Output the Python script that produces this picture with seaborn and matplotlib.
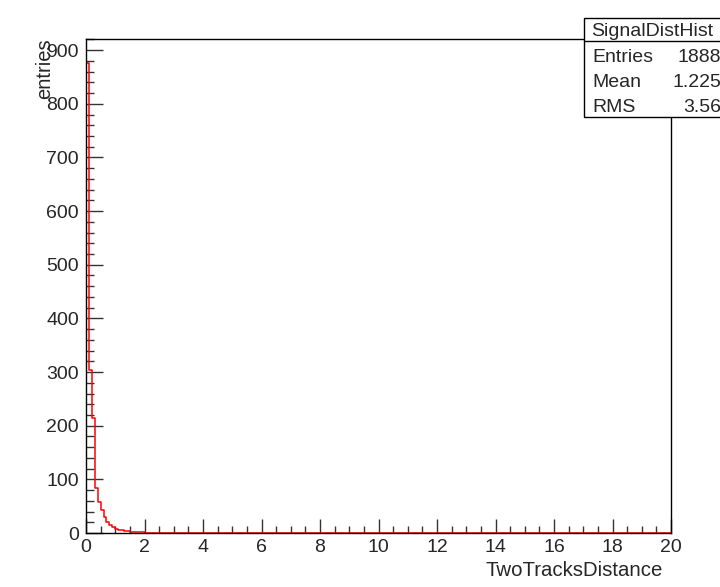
import numpy as np
import pandas as pd
import matplotlib
matplotlib.use("Agg")
import matplotlib.pyplot as plt
from matplotlib.patches import Rectangle
from matplotlib.lines import Line2D
from matplotlib.ticker import MultipleLocator
import seaborn as sns

# ---- data ----
x_min, x_max, n_bins = 0.0, 20.0, 200
counts_head = [877, 303, 214, 84, 58, 42, 30, 21, 15, 11, 8, 6, 5, 4, 3, 2, 2, 1, 1, 1]
counts = counts_head + [0] * (n_bins - len(counts_head))
x_ticks = [0, 2, 4, 6, 8, 10, 12, 14, 16, 18, 20]
y_ticks = [0, 100, 200, 300, 400, 500, 600, 700, 800, 900]
stats_title = "SignalDistHist"
stats_names = ["Entries", "Mean", "RMS"]
stats_values = ["1888", "1.225", "3.56"]
x_label = "TwoTracksDistance"
y_label = "entries"

bin_w = (x_max - x_min) / n_bins
centers = x_min + bin_w * (np.arange(n_bins) + 0.5)
df = pd.DataFrame({"x": centers, "w": counts})

sns.set_theme(style="white")
plt.rcParams["font.family"] = ["Liberation Sans", "DejaVu Sans"]

W, H = 720, 587
fig = plt.figure(figsize=(W / 100, H / 100), dpi=100)
fx = lambda px: px / W
fy = lambda py: 1 - py / H

ax = fig.add_axes([fx(86), fy(533), (671 - 86) / W, (533 - 39) / H])
sns.histplot(data=df, x="x", weights="w", binwidth=bin_w, binrange=(x_min, x_max),
             element="step", fill=False, color="#ff0000", linewidth=1.1, ax=ax)
ax.set_xlim(x_min, x_max)
ax.set_ylim(0, max(counts) * 1.05)
ax.set_xlabel("")
ax.set_ylabel("")
ax.set_xticks(x_ticks)
ax.set_xticklabels([str(t) for t in x_ticks])
ax.set_yticks(y_ticks)
ax.set_yticklabels([str(t) for t in y_ticks])
ax.xaxis.set_minor_locator(MultipleLocator(0.5))
ax.yaxis.set_minor_locator(MultipleLocator(20))
ax.tick_params(axis="x", which="major", direction="in", length=10, width=1.0,
               color="#333333", labelsize=14, pad=4, bottom=True, top=False)
ax.tick_params(axis="x", which="minor", direction="in", length=5, width=1.0,
               color="#333333", bottom=True, top=False)
ax.tick_params(axis="y", which="major", direction="in", length=12, width=1.0,
               color="#333333", labelsize=14, pad=5, left=True, right=False)
ax.tick_params(axis="y", which="minor", direction="in", length=6, width=1.0,
               color="#333333", left=True, right=False)
for s in ax.spines.values():
    s.set_visible(True)
    s.set_color("black")
    s.set_linewidth(1.0)
ax.set_facecolor("white")

# axis titles (ROOT style: right/top aligned)
fig.text(fx(663), fy(576), x_label, ha="right", va="baseline", fontsize=14.7)
fig.text(fx(45), fy(38), y_label, ha="center", va="top", rotation=90, fontsize=14.5)

# stats box
fig.add_artist(Rectangle((fx(584), fy(117)), (726 - 584) / W, (117 - 18) / H,
                         transform=fig.transFigure, facecolor="white",
                         edgecolor="black", linewidth=1.0))
fig.add_artist(Line2D([fx(584), fx(726)], [fy(41), fy(41)],
                      transform=fig.transFigure, color="black", linewidth=1.0))
fig.text(fx(652), fy(36), stats_title, ha="center", va="baseline", fontsize=14)
for i, (n, v) in enumerate(zip(stats_names, stats_values)):
    yb = 62 + 25 * i
    fig.text(fx(592), fy(yb), n, ha="left", va="baseline", fontsize=14)
    fig.text(fx(721), fy(yb), v, ha="right", va="baseline", fontsize=14)

fig.savefig("out.png", dpi=100, facecolor="white")
